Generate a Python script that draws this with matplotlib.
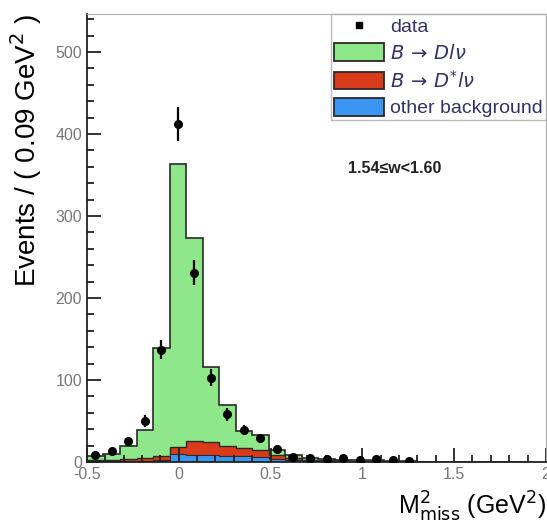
import numpy as np
import matplotlib
matplotlib.use("Agg")
import matplotlib.pyplot as plt
from matplotlib.ticker import MultipleLocator
from matplotlib.patches import Patch
from matplotlib.lines import Line2D

plt.rcParams['font.family'] = ['Liberation Sans', 'DejaVu Sans']

# binning: 0.09 GeV^2 bins starting at -0.5
bin_lo = -0.5
bin_w = 0.09
n_bins = 27

# stacked components (events per bin)
other_bkg = [1, 1, 1, 1, 2, 10, 9, 8, 7, 7, 6, 4, 2, 1, 1, 1, 0, 0, 0, 0]
dstar_lnu = [1, 2, 3, 4, 5, 8, 17, 16, 13, 10, 9, 5, 3, 2, 1, 1, 1, 1, 0, 0]
d_lnu = [5, 7, 15, 34, 132, 345, 247, 92, 49, 21, 18, 6, 3, 2, 2, 1, 1, 1, 1, 1]

# data points
data_counts = [8, 13, 25, 50, 137, 412, 231, 103, 58, 39, 29, 16, 6, 5, 4, 5, 3, 4, 2, 1]

label_text = "1.54\u2264w<1.60"

edges = bin_lo + bin_w * np.arange(n_bins + 1)
def pad(a):
    a = np.array(a, dtype=float)
    return np.concatenate([a, np.zeros(n_bins - len(a))])

blue = pad(other_bkg)
red = blue + pad(dstar_lnu)
green = red + pad(d_lnu)

fig = plt.figure(figsize=(5.47, 5.25), dpi=100)
ax = fig.add_axes([0.159, 0.12, 0.839, 0.853])

ec = '#2a2a2a'
ax.stairs(green, edges, fill=True, facecolor='#8ee88a', edgecolor=ec, lw=1.2)
ax.stairs(red, edges, fill=True, facecolor='#d93a1a', edgecolor=ec, lw=1.0)
ax.stairs(blue, edges, fill=True, facecolor='#3a96f0', edgecolor=ec, lw=0.8)

d = np.array(data_counts, dtype=float)
xc = edges[:len(d)] + bin_w / 2
ax.errorbar(xc, d, yerr=np.sqrt(d), fmt='o', color='black', ms=5.5,
            elinewidth=1.6, capsize=0, zorder=5)

ax.set_xlim(-0.5, 2.0)
ax.set_ylim(0, 546)
ax.xaxis.set_major_locator(MultipleLocator(0.5))
ax.xaxis.set_minor_locator(MultipleLocator(0.1))
ax.yaxis.set_major_locator(MultipleLocator(100))
ax.yaxis.set_minor_locator(MultipleLocator(20))
ax.xaxis.set_major_formatter(matplotlib.ticker.FuncFormatter(lambda v, p: '%g' % v))
ax.tick_params(which='both', direction='in', top=False, right=False,
               labelsize=11.5, labelcolor='#777777', color='#222222', width=1.3)
ax.tick_params(which='major', length=10)
ax.tick_params(which='minor', length=5)

for s in ['top', 'right']:
    ax.spines[s].set_color('#aaaaaa')
for s in ['left', 'bottom']:
    ax.spines[s].set_color('#222222')
    ax.spines[s].set_linewidth(1.3)

ax.set_ylabel('Events / ( 0.09 GeV$^2$ )', fontsize=20, loc='top', labelpad=8)
ax.set_xlabel('M$^2_{\\rm miss}$ (GeV$^2$)', fontsize=18, loc='right', labelpad=6)

ax.text(0.92, 352, label_text, fontsize=11.5, fontweight='bold', color='#222222')

handles = [
    Line2D([], [], marker='s', ls='none', color='black', ms=4),
    Patch(facecolor='#8ee88a', edgecolor=ec, lw=1.3),
    Patch(facecolor='#d93a1a', edgecolor=ec, lw=1.3),
    Patch(facecolor='#3a96f0', edgecolor=ec, lw=1.3),
]
labels = ['data', '$B\\,\\rightarrow\\,Dl\\nu$', '$B\\,\\rightarrow\\,D^{*}l\\nu$', 'other background']
leg = ax.legend(handles, labels, loc='upper right', bbox_to_anchor=(1.0, 1.0),
                fontsize=14, frameon=True, fancybox=False, edgecolor='#aaaaaa',
                borderaxespad=0, handlelength=2.6, handleheight=1.0,
                labelspacing=0.35, borderpad=0.15, handletextpad=0.3)
for t in leg.get_texts():
    t.set_color('#333366')

fig.savefig('out.png', dpi=100)
